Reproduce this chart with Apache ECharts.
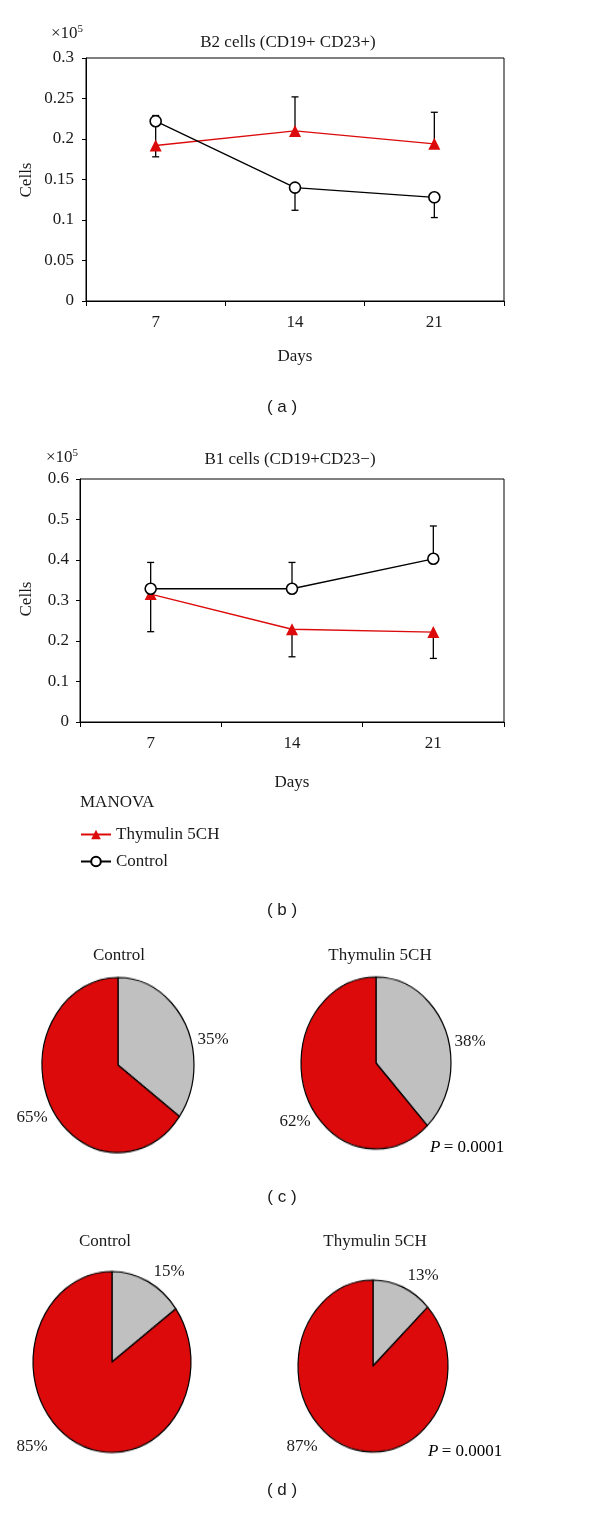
<!DOCTYPE html>
<html>
<head>
<meta charset="utf-8">
<script src="https://cdn.jsdelivr.net/npm/echarts@6/dist/echarts.min.js"></script>
<style>
  html, body { margin: 0; padding: 0; background: #fff; }
  #main { position: absolute; left: 0; top: 0; width: 600px; height: 1514px; }
  .pie { position: absolute; width: 200px; height: 200px; transform-origin: 50% 50%; }
</style>
</head>
<body>
<div id="main"></div>
<div id="pieC1" class="pie"></div>
<div id="pieC2" class="pie"></div>
<div id="pieD1" class="pie"></div>
<div id="pieD2" class="pie"></div>
<script>
// ---------- data ----------
const days = ['7', '14', '21'];

// (a) B2 cells (x10^5)
const b2Thym   = [0.192, 0.210, 0.194];
const b2ThymLo = [0.178, 0.210, 0.194];
const b2ThymHi = [0.218, 0.252, 0.233];
const b2Ctrl   = [0.222, 0.140, 0.128];
const b2CtrlLo = [0.222, 0.112, 0.103];
const b2CtrlHi = [0.229, 0.140, 0.128];

// (b) B1 cells (x10^5)
const b1Thym   = [0.316, 0.229, 0.222];
const b1ThymLo = [0.223, 0.161, 0.157];
const b1ThymHi = [0.316, 0.229, 0.222];
const b1Ctrl   = [0.329, 0.329, 0.403];
const b1CtrlLo = [0.329, 0.329, 0.403];
const b1CtrlHi = [0.394, 0.394, 0.484];

// pies: [gray share, red share] in %
const pieC_control = [35, 65];
const pieC_thym    = [38, 62];
const pieD_control = [15, 85];
const pieD_thym    = [13, 87];
const pValue = '0.0001';

const RED = '#dc0a0a';
const GRAY = '#c0c0c0';
const INK = '#1a1a1a';
const SERIF = '"Liberation Serif", "DejaVu Serif", serif';
const SANS = '"Liberation Sans", Arial, sans-serif';
const FS = 17;

// ---------- main chart ----------
const main = echarts.init(document.getElementById('main'), null, { renderer: 'canvas' });

function errSeries(name, xi, yi, mean, lo, hi) {
  return {
    type: 'custom', name: name, xAxisIndex: xi, yAxisIndex: yi, z: 1, silent: true,
    data: days.map((d, i) => [i, mean[i], lo[i], hi[i]]),
    encode: { x: 0, y: [1, 2, 3] },
    renderItem: function (params, api) {
      const x = api.value(0);
      const m = api.value(1), l = api.value(2), h = api.value(3);
      const pL = api.coord([x, l]);
      const pH = api.coord([x, h]);
      const cw = 3.5;
      const st = { stroke: '#000', lineWidth: 1.3 };
      const children = [{ type: 'line', shape: { x1: pL[0], y1: pL[1], x2: pH[0], y2: pH[1] }, style: st }];
      if (l < m) children.push({ type: 'line', shape: { x1: pL[0] - cw, y1: pL[1], x2: pL[0] + cw, y2: pL[1] }, style: st });
      if (h > m) children.push({ type: 'line', shape: { x1: pH[0] - cw, y1: pH[1], x2: pH[0] + cw, y2: pH[1] }, style: st });
      return { type: 'group', children: children };
    }
  };
}

function thymSeries(xi, yi, data) {
  return {
    type: 'line', name: 'Thymulin 5CH', xAxisIndex: xi, yAxisIndex: yi, z: 3,
    data: data, symbol: 'triangle', symbolSize: 12,
    lineStyle: { color: RED, width: 1.3 },
    itemStyle: { color: RED, borderWidth: 0 }
  };
}
function ctrlSeries(xi, yi, data) {
  return {
    type: 'line', name: 'Control', xAxisIndex: xi, yAxisIndex: yi, z: 4,
    data: data, symbol: 'circle', symbolSize: 11,
    lineStyle: { color: '#000', width: 1.3 },
    itemStyle: { color: '#fff', borderColor: '#000', borderWidth: 1.6 }
  };
}

function xAx(gi) {
  return {
    type: 'category', gridIndex: gi, data: days, boundaryGap: true,
    axisLine: { lineStyle: { color: '#000', width: 1 } },
    axisTick: { show: true, length: 5, inside: false, lineStyle: { color: '#000' } },
    axisLabel: { color: INK, fontFamily: SERIF, fontSize: FS, margin: 13 },
    splitLine: { show: false }
  };
}
function yAx(gi, max, interval, margin) {
  return {
    type: 'value', gridIndex: gi, min: 0, max: max, interval: interval,
    axisLine: { show: true, lineStyle: { color: '#000', width: 1 } },
    axisTick: { show: true, length: 4, lineStyle: { color: '#000' } },
    axisLabel: { color: INK, fontFamily: SERIF, fontSize: FS, margin: margin },
    splitLine: { show: false }
  };
}

function txt(x, y, text, opts) {
  return Object.assign({
    type: 'text', x: x, y: y, silent: true,
    style: Object.assign({ text: text, fill: INK, font: FS + 'px ' + SERIF, textAlign: 'center', textVerticalAlign: 'middle' }, (opts && opts.style) || {})
  }, opts && opts.el ? opts.el : {});
}
function expo(x, y) {
  return {
    type: 'text', x: x, y: y, silent: true,
    style: {
      text: '{a|×10}{b|5}', textAlign: 'left', textVerticalAlign: 'middle',
      rich: {
        a: { fontFamily: SERIF, fontSize: FS, fill: INK, color: INK },
        b: { fontFamily: SERIF, fontSize: 11, fill: INK, color: INK, verticalAlign: 'top', padding: [0, 0, 10, 0] }
      }
    }
  };
}
function pLabel(x, y) {
  return {
    type: 'text', x: x, y: y, silent: true,
    style: {
      text: '{i|P} {n|= ' + pValue + '}', textAlign: 'left', textVerticalAlign: 'middle',
      rich: {
        i: { fontFamily: SERIF, fontSize: FS, fontStyle: 'italic', color: INK },
        n: { fontFamily: SERIF, fontSize: FS, color: INK }
      }
    }
  };
}

const graphics = [
  // (a)
  expo(51, 34),
  txt(288, 43, 'B2 cells (CD19+ CD23+)'),
  txt(27, 180, 'Cells', { el: { rotation: Math.PI / 2 } }),
  txt(295, 357, 'Days'),
  txt(282, 407, '( a )', { style: { font: '17px ' + SANS } }),
  // (b)
  expo(46, 458),
  txt(290, 460, 'B1 cells (CD19+CD23\u2212)'),
  txt(27, 599, 'Cells', { el: { rotation: Math.PI / 2 } }),
  txt(292, 783, 'Days'),
  txt(80, 803, 'MANOVA', { style: { textAlign: 'left' } }),
  txt(282, 910, '( b )', { style: { font: '17px ' + SANS } }),
  // (c)
  txt(119, 956, 'Control'),
  txt(380, 956, 'Thymulin 5CH'),
  txt(213, 1040, pieC_control[0] + '%'),
  txt(32, 1118, pieC_control[1] + '%'),
  txt(470, 1042, pieC_thym[0] + '%'),
  txt(295, 1122, pieC_thym[1] + '%'),
  pLabel(430, 1148),
  txt(282, 1197, '( c )', { style: { font: '17px ' + SANS } }),
  // (d)
  txt(105, 1242, 'Control'),
  txt(375, 1242, 'Thymulin 5CH'),
  txt(169, 1272, pieD_control[0] + '%'),
  txt(423, 1276, pieD_thym[0] + '%'),
  txt(32, 1447, pieD_control[1] + '%'),
  txt(302, 1447, pieD_thym[1] + '%'),
  pLabel(428, 1452),
  txt(282, 1490, '( d )', { style: { font: '17px ' + SANS } })
];

main.setOption({
  animation: false,
  backgroundColor: '#fff',
  textStyle: { fontFamily: SERIF },
  grid: [
    { left: 86, right: 96, top: 58, height: 243, show: true, borderColor: '#000', borderWidth: 1, backgroundColor: 'transparent' },
    { left: 80, right: 96, top: 479, height: 243, show: true, borderColor: '#000', borderWidth: 1, backgroundColor: 'transparent' }
  ],
  xAxis: [xAx(0), xAx(1)],
  yAxis: [yAx(0, 0.3, 0.05, 12), yAx(1, 0.6, 0.1, 11)],
  legend: {
    data: ['Thymulin 5CH', 'Control'],
    orient: 'vertical', left: 80, top: 826, padding: 0,
    itemWidth: 30, itemHeight: 12, itemGap: 10,
    textStyle: { fontFamily: SERIF, fontSize: FS, color: INK },
    selectedMode: false
  },
  series: [
    errSeries('errA1', 0, 0, b2Thym, b2ThymLo, b2ThymHi),
    errSeries('errA2', 0, 0, b2Ctrl, b2CtrlLo, b2CtrlHi),
    thymSeries(0, 0, b2Thym),
    ctrlSeries(0, 0, b2Ctrl),
    errSeries('errB1', 1, 1, b1Thym, b1ThymLo, b1ThymHi),
    errSeries('errB2', 1, 1, b1Ctrl, b1CtrlLo, b1CtrlHi),
    thymSeries(1, 1, b1Thym),
    ctrlSeries(1, 1, b1Ctrl)
  ],
  graphic: graphics
});

// ---------- pies (elliptical: pie drawn by ECharts, div stretched vertically) ----------
function makePie(id, cx, cy, rx, ry, vals) {
  const el = document.getElementById(id);
  el.style.left = (cx - 100) + 'px';
  el.style.top = (cy - 100) + 'px';
  el.style.transform = 'scaleY(' + (ry / rx) + ')';
  const c = echarts.init(el);
  c.setOption({
    animation: false,
    series: [{
      type: 'pie', radius: rx, center: ['50%', '50%'], startAngle: 90, clockwise: true,
      label: { show: false }, labelLine: { show: false }, silent: true,
      itemStyle: { borderColor: '#000', borderWidth: 1.2 },
      data: [
        { name: 'share 1', value: vals[0], itemStyle: { color: GRAY } },
        { name: 'share 2', value: vals[1], itemStyle: { color: RED } }
      ]
    }]
  });
}
makePie('pieC1', 118, 1065, 76, 87.5, pieC_control);
makePie('pieC2', 376, 1063, 75, 86, pieC_thym);
makePie('pieD1', 111.5, 1362, 79, 90.5, pieD_control);
makePie('pieD2', 372.7, 1366, 75, 86, pieD_thym);
</script>
</body>
</html>
